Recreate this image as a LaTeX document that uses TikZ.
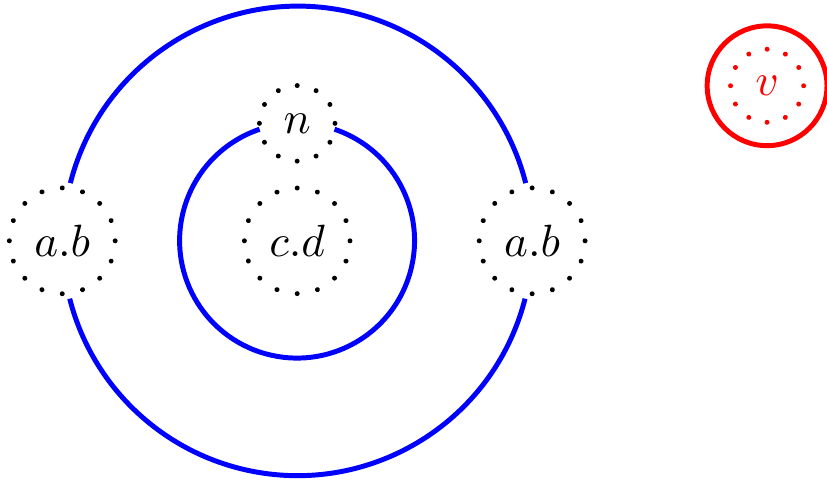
\documentclass[tikz,border=0pt,11pt]{standalone}
\usepackage{xcolor}
\usepackage{amsmath}
\usepackage{tikz}
\usetikzlibrary{positioning, decorations.markings}
\tikzset{
  vtx/.style={circle, outer sep=1.3pt, postaction={decorate},
              decoration={markings,
                mark=between positions 0 and 0.99 step #1
                  with {\fill circle (0.6pt);}}},
  vtx/.default=0.0625,
  wire/.style={draw=blue, line width=1.2pt},
  ring/.style={circle, draw=red, line width=1.2pt, minimum size=1.02cm},
}

\begin{document}
\begin{tikzpicture}
  \useasboundingbox (-2.53,-2.04) rectangle (4.51,2.05);

  % Outer nodes
  \node[vtx] (left) at (-2,0) {$a.b$};
  \node[vtx] (right) at (2,0) {$a.b$};

  % Inner nodes
  \node[vtx] (mid) at (0,0) {$c.d$};
  \node[vtx=0.08333, outer sep=0pt] (top) at (0,1) {$n$};

  % Red vertex
  \node[vtx=0.08333, red] (v) at (4,1.32) {$v$};
  \node[ring] (vring) at (v) {};

  % Big loop
  \draw[wire] (left.82.9) arc[start angle=165.71, end angle=14.29, radius=2cm];
  \draw[wire] (right.-97.1) arc[start angle=-14.29, end angle=-165.71, radius=2cm];

  % Small loop
  \draw[wire] (top.-9.3) arc[start angle=71.41, end angle=-251.41, radius=1cm];
\end{tikzpicture}
\end{document}
